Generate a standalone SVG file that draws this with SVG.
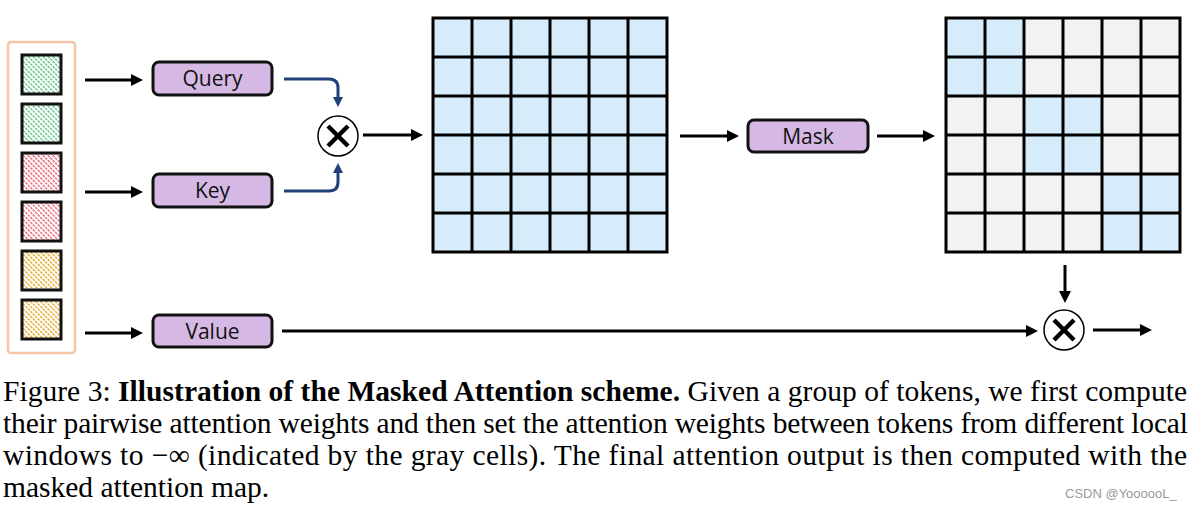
<svg xmlns="http://www.w3.org/2000/svg" width="1193" height="510" viewBox="0 0 1193 510">
<style>
.box{fill:#d5b9e4;stroke:#111;stroke-width:3}
.lbl{font-family:"Open Sans","Noto Sans",sans-serif;font-size:21px;fill:#111;text-anchor:middle}
.arr{stroke:#000;stroke-width:3;fill:none}
.blue{stroke:#213f78;stroke-width:3;fill:none}
.tok{stroke:#111;stroke-width:3}
.grid{stroke:#000;stroke-width:3;fill:none}
.b{fill:#d7ecfb}
.g{fill:#f2f2f2}
.cap{font-family:"Liberation Serif","Times New Roman",serif;font-size:29.5px;fill:#000}
.mul{stroke:#000;stroke-width:4.5;stroke-linecap:butt}
</style>
<defs>
<marker id="ah" viewBox="0 0 12 12" refX="2" refY="6" markerWidth="12" markerHeight="12" markerUnits="userSpaceOnUse" orient="auto"><path d="M0,0 L12,6 L0,12 z" fill="#000"/></marker>
<marker id="ahb" viewBox="0 0 10 10" refX="2" refY="5" markerWidth="10" markerHeight="10" markerUnits="userSpaceOnUse" orient="auto"><path d="M0,0 L10,5 L0,10 z" fill="#213f78"/></marker>
<pattern id="hg" width="3.5" height="3.5" patternUnits="userSpaceOnUse" patternTransform="rotate(-45)"><rect width="3.5" height="3.5" fill="#fff"/><line x1="1" y1="0" x2="1" y2="3.5" stroke="#5cc184" stroke-width="1.4" stroke-dasharray="2.6 0.9"/></pattern>
<pattern id="hr" width="3.5" height="3.5" patternUnits="userSpaceOnUse" patternTransform="rotate(-45)"><rect width="3.5" height="3.5" fill="#fff"/><line x1="1" y1="0" x2="1" y2="3.5" stroke="#ea5f70" stroke-width="1.4" stroke-dasharray="2.6 0.9"/></pattern>
<pattern id="hy" width="3.5" height="3.5" patternUnits="userSpaceOnUse" patternTransform="rotate(-45)"><rect width="3.5" height="3.5" fill="#fff"/><line x1="1" y1="0" x2="1" y2="3.5" stroke="#e3a81f" stroke-width="1.4" stroke-dasharray="2.6 0.9"/></pattern>
</defs>
<rect width="1193" height="510" fill="#fff"/>

<g id="tokens">
<rect x="8" y="42" width="67" height="311" rx="3" fill="none" stroke="#f6c6a6" stroke-width="2.5"/>
<rect class="tok" x="22" y="55" width="39" height="39" fill="url(#hg)"/>
<rect class="tok" x="22" y="104" width="39" height="39" fill="url(#hg)"/>
<rect class="tok" x="22" y="153" width="39" height="39" fill="url(#hr)"/>
<rect class="tok" x="22" y="202" width="39" height="39" fill="url(#hr)"/>
<rect class="tok" x="22" y="251" width="39" height="39" fill="url(#hy)"/>
<rect class="tok" x="22" y="300" width="39" height="39" fill="url(#hy)"/>
</g>

<g id="query"><rect class="box" x="153" y="62" width="119" height="33" rx="6"/><text class="lbl" x="212.5" y="86">Query</text></g>
<g id="key"><rect class="box" x="153" y="174" width="119" height="33" rx="6"/><text class="lbl" x="212.5" y="198">Key</text></g>
<g id="value"><rect class="box" x="153" y="315" width="119" height="32" rx="6"/><text class="lbl" x="212.5" y="339">Value</text></g>
<g id="mask"><rect class="box" x="748" y="120" width="120" height="32" rx="6"/><text class="lbl" x="808" y="144">Mask</text></g>

<g id="mul1"><circle cx="338" cy="136" r="20" fill="#fff" stroke="#000" stroke-width="1.5"/><line class="mul" x1="328" y1="126" x2="348" y2="146"/><line class="mul" x1="348" y1="126" x2="328" y2="146"/></g>
<g id="mul2"><circle cx="1064" cy="330" r="20" fill="#fff" stroke="#000" stroke-width="1.5"/><line class="mul" x1="1054" y1="320" x2="1074" y2="340"/><line class="mul" x1="1074" y1="320" x2="1054" y2="340"/></g>

<g id="attn">
<rect class="b" x="433" y="18" width="234" height="234"/>
<path class="grid" d="M433,18 H667 V252 H433 Z M472,18 V252 M511,18 V252 M550,18 V252 M589,18 V252 M628,18 V252 M433,57 H667 M433,96 H667 M433,135 H667 M433,174 H667 M433,213 H667"/>
</g>

<g id="masked">
<rect class="g" x="946" y="18" width="234" height="234"/>
<rect class="b" x="946" y="18" width="78" height="78"/>
<rect class="b" x="1024" y="96" width="78" height="78"/>
<rect class="b" x="1102" y="174" width="78" height="78"/>
<path class="grid" d="M946,18 H1180 V252 H946 Z M985,18 V252 M1024,18 V252 M1063,18 V252 M1102,18 V252 M1141,18 V252 M946,57 H1180 M946,96 H1180 M946,135 H1180 M946,174 H1180 M946,213 H1180"/>
</g>

<g id="connectors">
<line class="arr" x1="85" y1="80" x2="133" y2="80" marker-end="url(#ah)"/>
<line class="arr" x1="85" y1="192" x2="133" y2="192" marker-end="url(#ah)"/>
<line class="arr" x1="85" y1="333" x2="133" y2="333" marker-end="url(#ah)"/>
<path class="blue" d="M284,79 H329 Q338,79 338,88 V99" marker-end="url(#ahb)"/>
<path class="blue" d="M284,191 H329 Q338,191 338,182 V171" marker-end="url(#ahb)"/>
<line class="arr" x1="363" y1="135" x2="413" y2="135" marker-end="url(#ah)"/>
<line class="arr" x1="680" y1="136" x2="729" y2="136" marker-end="url(#ah)"/>
<line class="arr" x1="877" y1="136" x2="925" y2="136" marker-end="url(#ah)"/>
<line class="arr" x1="282" y1="331" x2="1028" y2="331" marker-end="url(#ah)"/>
<line class="arr" x1="1065" y1="265" x2="1065" y2="293" marker-end="url(#ah)"/>
<line class="arr" x1="1093" y1="330" x2="1142" y2="330" marker-end="url(#ah)"/>
</g>

<g id="caption">
<text class="cap" x="3" y="401" textLength="1184" lengthAdjust="spacing">Figure 3: <tspan font-weight="bold">Illustration of the Masked Attention scheme.</tspan> Given a group of tokens, we first compute</text>
<text class="cap" x="3" y="433" textLength="1185" lengthAdjust="spacing">their pairwise attention weights and then set the attention weights between tokens from different local</text>
<text class="cap" x="3" y="465" textLength="1184" lengthAdjust="spacing">windows to −∞ (indicated by the gray cells). The final attention output is then computed with the</text>
<text class="cap" x="3" y="497">masked attention map.</text>
<text x="1065" y="498" font-family="Liberation Sans,Arial,sans-serif" font-size="13" fill="#9a9a9a">CSDN @YoooooL_</text>
</g>
</svg>
